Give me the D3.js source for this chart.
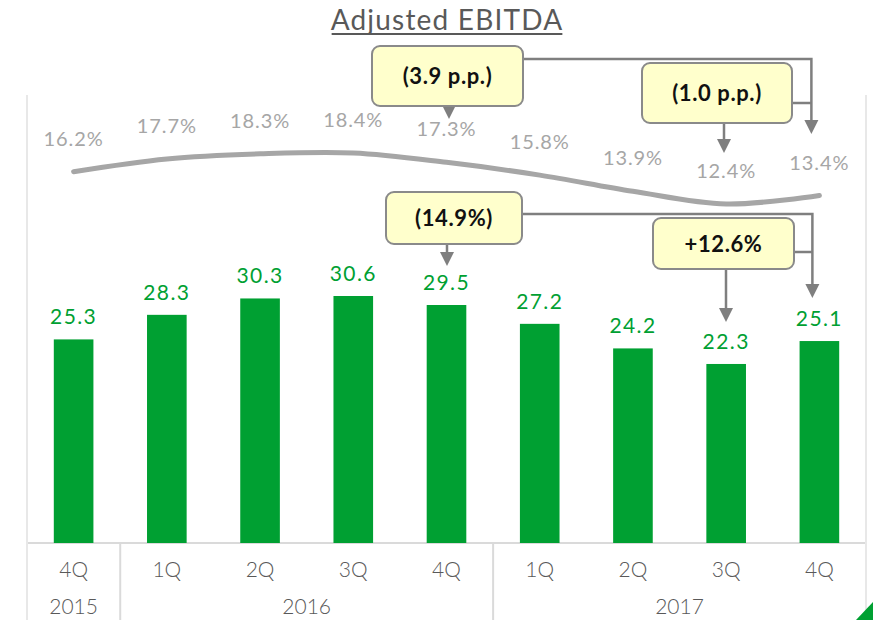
<!DOCTYPE html>
<html>
<head>
<meta charset="utf-8">
<script src="https://cdn.jsdelivr.net/npm/d3@7"></script>
<style>
  body { margin: 0; background: #fff; }
  svg { display: block; font-family: Lato, "Open Sans", sans-serif; }
</style>
</head>
<body>
<script>
// data
var quarters = ["4Q", "1Q", "2Q", "3Q", "4Q", "1Q", "2Q", "3Q", "4Q"];
var years = ["2015", "2016", "2016", "2016", "2016", "2017", "2017", "2017", "2017"];
var ebitda = [25.3, 28.3, 30.3, 30.6, 29.5, 27.2, 24.2, 22.3, 25.1];
var margin = [16.2, 17.7, 18.3, 18.4, 17.3, 15.8, 13.9, 12.4, 13.4];
var yearGroups = ["2015", "2016", "2017"];

var W = 873, H = 620;
var keys = quarters.map(function(q, i) { return years[i] + q; });

var svg = d3.select("body").append("svg").attr("width", W).attr("height", H);

var cell = d3.scaleBand().domain(keys).range([27, 866]).padding(0);
var x = d3.scaleBand().domain(keys).range([27, 866]).paddingInner(0.575).paddingOuter(0.2875);
var y = d3.scaleLinear().domain([0, 30.6]).range([546.6, 296]);
var ym = d3.scaleLinear().domain([12.4, 18.4]).range([204, 153]);
var baseY = 543;
var green = "#00a032", grey = "#a6a6a6", dark = "#595959", arrowC = "#7f7f7f";

// frame lines
svg.append("line").attr("x1", 27).attr("x2", 866).attr("y1", baseY).attr("y2", baseY)
  .style("stroke", "#dadada").style("stroke-width", 2);
[27, 866].forEach(function(xx) {
  svg.append("line").attr("x1", xx).attr("x2", xx).attr("y1", 95).attr("y2", H)
    .style("stroke", "#e8e8e8").style("stroke-width", 2);
});
yearGroups.forEach(function(yr, gi) {
  if (gi == 0) return;
  var first = keys[years.indexOf(yr)];
  svg.append("line").attr("x1", cell(first)).attr("x2", cell(first))
    .attr("y1", baseY).attr("y2", H).style("stroke", "#dadada").style("stroke-width", 2);
});

// title
var title = svg.append("text").attr("x", 447).attr("y", 30).attr("text-anchor", "middle")
  .style("font-size", "28px").style("fill", dark)
  .style("letter-spacing", "1.2px").text("Adjusted EBITDA");
var tb = title.node().getBBox();
svg.append("line").attr("x1", tb.x + 1).attr("x2", tb.x + tb.width - 1).attr("y1", 34).attr("y2", 34)
  .style("stroke", dark).style("stroke-width", 1.8);

// bars
svg.selectAll("rect.bar").data(ebitda).enter().append("rect").attr("class", "bar")
  .attr("x", function(d, i) { return x(keys[i]); })
  .attr("width", x.bandwidth())
  .attr("y", function(d) { return y(d); })
  .attr("height", function(d) { return baseY - y(d); })
  .style("fill", green);

svg.selectAll("text.val").data(ebitda).enter().append("text").attr("class", "val")
  .attr("x", function(d, i) { return x(keys[i]) + x.bandwidth() / 2; })
  .attr("y", function(d) { return y(d) - 15; })
  .attr("text-anchor", "middle")
  .style("font-size", "21px").style("fill", green).style("letter-spacing", "1.4px")
  .text(function(d) { return d.toFixed(1); });

// margin line
var line = d3.line()
  .x(function(d, i) { return x(keys[i]) + x.bandwidth() / 2; })
  .y(function(d) { return ym(d); })
  .curve(d3.curveCatmullRom.alpha(0.5));
svg.append("path").datum(margin).attr("d", line)
  .style("fill", "none").style("stroke", grey).style("stroke-width", 5).style("stroke-linecap", "round");

svg.selectAll("text.pct").data(margin).enter().append("text").attr("class", "pct")
  .attr("x", function(d, i) { return x(keys[i]) + x.bandwidth() / 2; })
  .attr("y", function(d) { return ym(d) - 33 + 7; })
  .attr("text-anchor", "middle")
  .style("font-size", "20px").style("fill", grey).style("letter-spacing", "0.9px")
  .text(function(d) { return d.toFixed(1) + "%"; });

// axis labels
svg.selectAll("text.q").data(quarters).enter().append("text").attr("class", "q")
  .attr("x", function(d, i) { return x(keys[i]) + x.bandwidth() / 2; })
  .attr("y", 577).attr("text-anchor", "middle")
  .style("font-size", "21px").style("font-weight", 300).style("fill", dark)
  .text(function(d) { return d; });

yearGroups.forEach(function(yr) {
  var idx = [];
  years.forEach(function(v, i) { if (v == yr) idx.push(i); });
  var x0 = cell(keys[idx[0]]), x1 = cell(keys[idx[idx.length - 1]]) + cell.bandwidth();
  svg.append("text").attr("x", (x0 + x1) / 2).attr("y", 614).attr("text-anchor", "middle")
    .style("font-size", "21px").style("font-weight", 300).style("fill", dark).text(yr);
});

// callouts
function arrowHead(xx, tip) {
  svg.append("path")
    .attr("d", "M" + (xx - 7) + "," + (tip - 14) + "L" + (xx + 7) + "," + (tip - 14) + "L" + xx + "," + tip + "Z")
    .style("fill", arrowC);
}
function seg(pts, tip) {
  svg.append("path").attr("d", d3.line()(pts))
    .style("fill", "none").style("stroke", arrowC).style("stroke-width", 2.5);
  var last = pts[pts.length - 1];
  if (tip) arrowHead(last[0], tip);
}
function box(x0, y0, x1, y1, label) {
  svg.append("rect").attr("x", x0).attr("y", y0).attr("width", x1 - x0).attr("height", y1 - y0)
    .attr("rx", 8).style("fill", "#ffffcc").style("stroke", "#8a8a8a").style("stroke-width", 2);
  svg.append("text").attr("x", (x0 + x1) / 2).attr("y", (y0 + y1) / 2 + 8).attr("text-anchor", "middle")
    .style("font-size", "22px").style("font-weight", 700).style("fill", "#111")
    .style("letter-spacing", "0.6px").text(label);
}

var xEnd = x(keys[8]) + x.bandwidth() / 2 - 8;

// margin callouts
seg([[523, 59], [xEnd, 59], [xEnd, 124]], 134);
seg([[792, 103], [xEnd, 103]]);
seg([[449, 106], [449, 110]], 119);
box(372, 46, 523, 106, "(3.9 p.p.)");
seg([[724, 123], [724, 143]], 153);
box(642, 63, 792, 123, "(1.0 p.p.)");

// EBITDA callouts
seg([[522, 214], [xEnd + 1, 214], [xEnd + 1, 288]], 298);
seg([[794, 252], [xEnd + 1, 252]]);
seg([[447, 244], [447, 256]], 266);
box(386, 192, 522, 244, "(14.9%)");
seg([[726, 269], [726, 312]], 322);
box(653, 218, 794, 269, "+12.6%");

// corner decoration
svg.append("path").attr("d", "M856,620L873,602L873,620Z").style("fill", green);
</script>
</body>
</html>
